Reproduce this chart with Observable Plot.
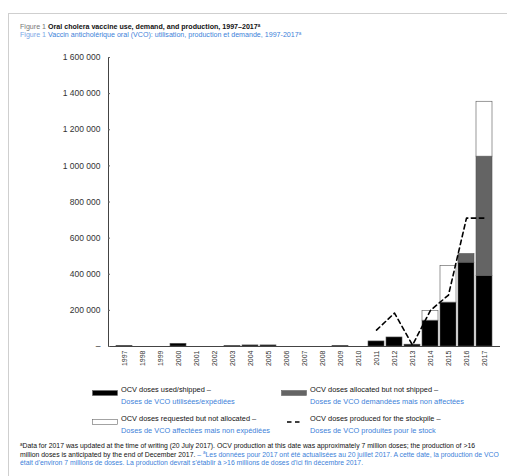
<!DOCTYPE html>
<html><head><meta charset="utf-8">
<script src="https://cdn.jsdelivr.net/npm/d3@7"></script>
<script src="https://cdn.jsdelivr.net/npm/@observablehq/plot@0.6"></script>
<style>
  html,body{margin:0;padding:0;background:#fff;width:507px;height:476px;overflow:hidden;font-family:"Liberation Sans",Arial,sans-serif;}
  .abs{position:absolute;white-space:nowrap;}
  #frame{position:absolute;left:8px;top:13px;width:600px;height:600px;border-left:1.5px solid #cfcfcf;border-top:1.5px solid #cfcfcf;}
  .t{font-size:7.1px;line-height:8px;}
  .en{color:#111;}
  .fr{color:#3d7fd9;}
  .lg{font-size:7.4px;line-height:11.5px;}
  .fn{font-size:6.85px;line-height:8.6px;}
  sup{font-size:4.5px;line-height:0;vertical-align:0;position:relative;top:-2.5px;}
  #chart{position:absolute;left:0;top:45px;}
  svg.sw{display:block;}
</style>
</head><body>
<div id="frame"></div>
<div class="abs t" style="left:20px;top:23px;">
  <div class="en"><span style="color:#777">Figure 1</span> <b>Oral cholera vaccine use, demand, and production, 1997–2017<sup>a</sup></b></div>
  <div class="fr"><span style="color:#7aa6e6">Figure 1</span> Vaccin anticholérique oral (VCO): utilisation, production et demande, 1997-2017<sup>a</sup></div>
</div>
<div id="chart"></div>
<div id="legend"></div>
<div class="abs fn" style="left:20px;top:442px;">
  <div class="en"><sup>a</sup>Data for 2017 was updated at the time of writing (20 July 2017). OCV production at this date was approximately 7 million doses; the production of &gt;16</div>
  <div><span class="en">million doses is anticipated by the end of December 2017.</span> <span class="fr">– <sup>a</sup>Les données pour 2017 ont été actualisées au 20 juillet 2017. A cette date, la production de VCO</span></div>
  <div class="fr">était d'environ 7 millions de doses. La production devrait s'établir à &gt;16 millions de doses d'ici fin décembre 2017.</div>
</div>
<script>
// ---- data ----
const years = ["1997","1998","1999","2000","2001","2002","2003","2004","2005","2006","2007","2008","2009","2010","2011","2012","2013","2014","2015","2016","2017"];
const usedShipped        = [3000,0,0,15000,0,0,2000,6000,6000,0,0,0,3000,0,28000,50000,10000,143000,243000,464000,390000];
const allocatedNotShipped = [0,0,0,0,0,0,0,0,0,0,0,0,0,0,0,0,0,0,0,48000,661000];
const requestedNotAllocated = [0,0,0,0,0,0,0,0,0,0,0,0,0,0,0,0,0,54000,203000,0,304000];
const prodYears = ["2011","2012","2013","2014","2015","2016","2017"];
const producedStockpile = [91000,185000,8000,200000,285000,711000,711000];
const yTicks = [0,200000,400000,600000,800000,1000000,1200000,1400000,1600000];
const seriesNames = ["OCV doses used/shipped","OCV doses allocated but not shipped","OCV doses requested but not allocated"];
const seriesColors = ["#000000","#646464","#ffffff"];

// ---- build table ----
const seriesValues = [usedShipped, allocatedNotShipped, requestedNotAllocated];
const rows = [];
years.forEach((yr, i) => {
  seriesNames.forEach((s, k) => {
    if (seriesValues[k][i] > 0) rows.push({year: yr, series: s, value: seriesValues[k][i]});
  });
});
const prodRows = prodYears.map((yr, i) => ({year: yr, value: producedStockpile[i]}));
const fmt = d => d === 0 ? "–" : d3.format(",")(d).replace(/,/g, " ");

const chart = Plot.plot({
  width: 507, height: 330,
  marginLeft: 108, marginRight: 7, marginTop: 12, marginBottom: 29,
  style: {fontFamily: "'Liberation Sans', Arial, sans-serif", background: "transparent", color: "#333"},
  x: {type: "band", domain: years, paddingInner: 0.1, paddingOuter: 0.05},
  y: {domain: [0, 1600000]},
  color: {domain: seriesNames, range: seriesColors},
  marks: [
    Plot.barY(rows, {x: "year", y: "value", fill: "series", stroke: "#555", strokeWidth: 0.6}),
    Plot.line(prodRows, {x: "year", y: "value", stroke: "#000", strokeWidth: 1.6, strokeDasharray: "4.5,3.5"}),
    Plot.ruleY([0], {stroke: "#444", strokeWidth: 1}),
    Plot.frame({anchor: "left", stroke: "#444", strokeWidth: 1}),
    Plot.axisY({ticks: yTicks, tickSize: 0, tickPadding: 8, tickFormat: fmt, label: null, fontSize: 8.5}),
    Plot.axisY({ticks: yTicks, tickSize: 2, dx: 2, tickFormat: () => "", label: null, stroke: "#666"}),
    Plot.axisX({tickRotate: -90, tickSize: 0, tickPadding: 4, fontSize: 7, label: null})
  ]
});
document.getElementById("chart").appendChild(chart);

// ---- legend ----
const legendItems = [
  {en: "OCV doses used/shipped –", fr: "Doses de VCO utilisées/expédiées", x: 92, y: 390, kind: "black"},
  {en: "OCV doses allocated but not shipped –", fr: "Doses de VCO demandées mais non affectées", x: 281, y: 390, kind: "gray"},
  {en: "OCV doses requested but not allocated –", fr: "Doses de VCO affectées mais non expédiées", x: 92, y: 419, kind: "white"},
  {en: "OCV doses produced for the stockpile –", fr: "Doses de VCO produites pour le stock", x: 281, y: 419, kind: "dash"}
];
const lg = document.getElementById("legend");
legendItems.forEach(it => {
  const sw = document.createElement("div");
  sw.className = "abs";
  sw.style.left = it.x + "px";
  sw.style.top = it.y + "px";
  let svg;
  if (it.kind === "dash") {
    svg = `<svg class="sw" width="26" height="6"><line x1="6" x2="22" y1="3" y2="3" stroke="#000" stroke-width="1.6" stroke-dasharray="4.5,3.5"/></svg>`;
  } else {
    const f = it.kind === "black" ? "#000" : it.kind === "gray" ? "#646464" : "#fff";
    svg = `<svg class="sw" width="26" height="6"><rect x="0.5" y="0.5" width="25" height="5" fill="${f}" stroke="#666" stroke-width="0.6"/></svg>`;
  }
  sw.innerHTML = svg;
  lg.appendChild(sw);
  const tx = document.createElement("div");
  tx.className = "abs lg";
  tx.style.left = (it.x + 29) + "px";
  tx.style.top = (it.y - 6) + "px";
  tx.innerHTML = `<div class="en">${it.en}</div><div class="fr">${it.fr}</div>`;
  lg.appendChild(tx);
});
</script>
</body></html>
